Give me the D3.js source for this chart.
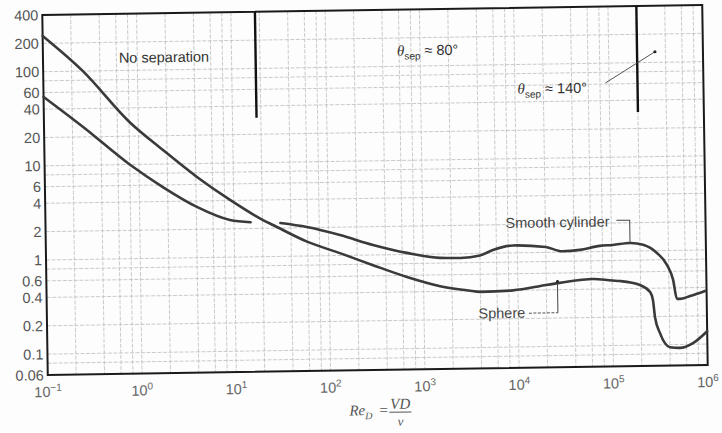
<!DOCTYPE html>
<html>
<head>
<meta charset="utf-8">
<script src="https://cdn.jsdelivr.net/npm/d3@7"></script>
<style>
  html, body { margin: 0; padding: 0; background: #fdfdfd; }
  svg { display: block; }
</style>
</head>
<body>
<svg id="chart" width="722" height="433"></svg>
<script>
// ---- data ----
const sphereRe = [0.1, 0.264, 0.817, 1.81, 4.11, 9.14, 20.3, 25.9, 59, 131, 293, 668, 1500, 3000, 4000, 8850, 20000, 45600, 63000, 100000, 121000, 197000, 252000, 269000, 281000, 315000, 401000, 512000, 705000, 1000000];
const sphereCd = [240, 100, 28, 14.1, 7.2, 4.06, 2.45, 2.16, 1.42, 1.06, 0.78, 0.577, 0.455, 0.405, 0.39, 0.40, 0.45, 0.503, 0.513, 0.49, 0.483, 0.435, 0.365, 0.30, 0.198, 0.134, 0.094, 0.092, 0.103, 0.137];

const cylRe1 = [0.1, 0.26, 0.8, 1.78, 4.06, 9.06, 15];
const cylCd1 = [54, 25.5, 10, 5.7, 3.46, 2.48, 2.33];
const cylRe2 = [31, 59, 132, 295, 674, 1500, 2500, 4000, 5500, 9000, 20000, 30000, 46000, 75000, 103000, 157000, 216000, 302000, 385000, 443000, 484000, 521000, 667000, 964000];
const cylCd2 = [2.26, 2.03, 1.65, 1.28, 1.04, 0.91, 0.90, 0.95, 1.08, 1.2, 1.14, 1.02, 1.05, 1.15, 1.17, 1.22, 1.16, 0.945, 0.70, 0.49, 0.305, 0.305, 0.326, 0.367];

const sepLinesRe = [18, 200000];   // vertical separation markers
const sepLineBottomCd = 30;

const xTickExponents = [-1, 0, 1, 2, 3, 4, 5, 6];
const yTickLabels = [400, 200, 100, 60, 40, 20, 10, 6, 4, 2, 1, 0.6, 0.4, 0.2, 0.1, 0.06];
const gridMultipliers = [1, 2, 4, 6, 8];

// ---- layout ----
const L = 45, R = 705, T = 10, B = 370;
const svg = d3.select("#chart");
const g = svg.append("g").attr("transform", "rotate(-0.87, 375, 190)");

const x = d3.scaleLog().domain([0.1, 1e6]).range([L, R]);
const y = d3.scaleLog().domain([0.06, 400]).range([B, T]);

// grid
const xGrid = [], yGrid = [];
for (let k = -1; k <= 5; k++) gridMultipliers.forEach(m => { const v = m * Math.pow(10, k); if (v > 0.1 && v < 1e6) xGrid.push(v); });
for (let k = -2; k <= 2; k++) gridMultipliers.forEach(m => { const v = m * Math.pow(10, k); if (v > 0.06 && v < 400) yGrid.push(v); });

g.append("g").selectAll("line").data(xGrid).join("line")
  .attr("x1", d => x(d)).attr("x2", d => x(d)).attr("y1", T).attr("y2", B)
  .attr("stroke", "#c4c4c4").attr("stroke-width", 0.9).attr("stroke-dasharray", "4,1.5");
g.append("g").selectAll("line").data(yGrid).join("line")
  .attr("y1", d => y(d)).attr("y2", d => y(d)).attr("x1", L).attr("x2", R)
  .attr("stroke", "#c4c4c4").attr("stroke-width", 0.9).attr("stroke-dasharray", "4,1.5");

// frame
g.append("rect").attr("x", L).attr("y", T).attr("width", R - L).attr("height", B - T)
  .attr("fill", "none").attr("stroke", "#1a1a1a").attr("stroke-width", 2);

// separation lines
g.append("g").selectAll("line").data(sepLinesRe).join("line")
  .attr("x1", d => x(d)).attr("x2", d => x(d)).attr("y1", T).attr("y2", y(sepLineBottomCd))
  .attr("stroke", "#111").attr("stroke-width", 2.4);

// curves
const line = d3.line().x(d => x(d[0])).y(d => y(d[1])).curve(d3.curveMonotoneX);
const curveStyle = sel => sel.attr("fill", "none").attr("stroke", "#3a3a3a").attr("stroke-width", 2.6).attr("stroke-linejoin", "round").attr("stroke-linecap", "round");
g.append("path").datum(d3.zip(sphereRe, sphereCd)).attr("d", line).call(curveStyle);
g.append("path").datum(d3.zip(cylRe1, cylCd1)).attr("d", line).call(curveStyle);
g.append("path").datum(d3.zip(cylRe2, cylCd2)).attr("d", line).call(curveStyle);

// y tick labels
g.append("g").selectAll("text").data(yTickLabels).join("text")
  .attr("x", L - 4).attr("y", d => y(d)).attr("dy", "0.36em")
  .attr("text-anchor", "end").attr("font-family", "Liberation Sans, Arial, sans-serif")
  .attr("font-size", 14.5).attr("fill", "#555").text(d => d);

// x tick labels
const xt = g.append("g").selectAll("text").data(xTickExponents).join("text")
  .attr("x", d => x(Math.pow(10, d))).attr("y", 392)
  .attr("text-anchor", "middle").attr("font-family", "Liberation Sans, Arial, sans-serif")
  .attr("font-size", 14.5).attr("fill", "#666");
xt.append("tspan").text("10");
xt.append("tspan").attr("dy", -6).attr("font-size", 10).text(d => d < 0 ? "\u2212" + Math.abs(d) : d);

// annotations
const sans = "Liberation Sans, Arial, sans-serif";
const serif = "Liberation Serif, Times New Roman, serif";
g.append("text").attr("x", 166).attr("y", 59).attr("text-anchor", "middle")
  .attr("font-family", sans).attr("font-size", 14.5).attr("fill", "#333").text("No separation");

function thetaLabel(x0, yb, txt) {
  const t = g.append("text").attr("x", x0).attr("y", yb).attr("fill", "#333").attr("font-family", sans).attr("font-size", 14.5);
  t.append("tspan").attr("font-family", serif).attr("font-style", "italic").attr("font-size", 15).text("\u03b8");
  t.append("tspan").attr("font-size", 10).attr("dy", 4).text("sep");
  t.append("tspan").attr("dy", -4).text(" \u2248 " + txt);
}
thetaLabel(399, 56, "80\u00b0");
thetaLabel(519, 96, "140\u00b0");
g.append("line").attr("x1", 607).attr("y1", 86.5).attr("x2", 657).attr("y2", 56)
  .attr("stroke", "#444").attr("stroke-width", 0.9);
g.append("circle").attr("cx", 657).attr("cy", 56).attr("r", 1.6).attr("fill", "#222");

// Smooth cylinder label + leader
g.append("text").attr("x", 557).attr("y", 230).attr("text-anchor", "middle")
  .attr("font-family", sans).attr("font-size", 14.5).attr("fill", "#444").text("Smooth cylinder");
const cylLeaderRe = 157000;
g.append("path").attr("d", `M616,224 H${x(cylLeaderRe)} V${y(1.22)}`)
  .attr("fill", "none").attr("stroke", "#444").attr("stroke-width", 1);

// Sphere label + leader
g.append("text").attr("x", 500).attr("y", 320).attr("text-anchor", "middle")
  .attr("font-family", sans).attr("font-size", 14.5).attr("fill", "#444").text("Sphere");
const sphLeaderRe = 26300;
g.append("line").attr("x1", 527).attr("x2", x(sphLeaderRe)).attr("y1", 315.5).attr("y2", 315.5)
  .attr("stroke", "#555").attr("stroke-width", 1).attr("stroke-dasharray", "3,1.5");
g.append("line").attr("x1", x(sphLeaderRe)).attr("x2", x(sphLeaderRe)).attr("y1", 315.5).attr("y2", y(0.49))
  .attr("stroke", "#444").attr("stroke-width", 1);
g.append("circle").attr("cx", x(sphLeaderRe)).attr("cy", y(0.49)).attr("r", 1.5).attr("fill", "#222");

// axis title Re_D = VD / ν
const at = g.append("text").attr("x", 346).attr("y", 415).attr("font-family", serif)
  .attr("font-style", "italic").attr("font-size", 15).attr("fill", "#555");
at.append("tspan").text("Re");
at.append("tspan").attr("font-size", 10).attr("dy", 4).text("D");
g.append("text").attr("x", 376).attr("y", 415).attr("font-family", serif).attr("font-size", 15).attr("fill", "#555").text("=");
g.append("text").attr("x", 397).attr("y", 409).attr("text-anchor", "middle").attr("font-family", serif)
  .attr("font-style", "italic").attr("font-size", 15).attr("fill", "#555").text("VD");
g.append("line").attr("x1", 386).attr("x2", 408).attr("y1", 412.5).attr("y2", 412.5).attr("stroke", "#555").attr("stroke-width", 1);
g.append("text").attr("x", 397).attr("y", 426).attr("text-anchor", "middle").attr("font-family", serif)
  .attr("font-style", "italic").attr("font-size", 13).attr("fill", "#555").text("\u03bd");
</script>
</body>
</html>
